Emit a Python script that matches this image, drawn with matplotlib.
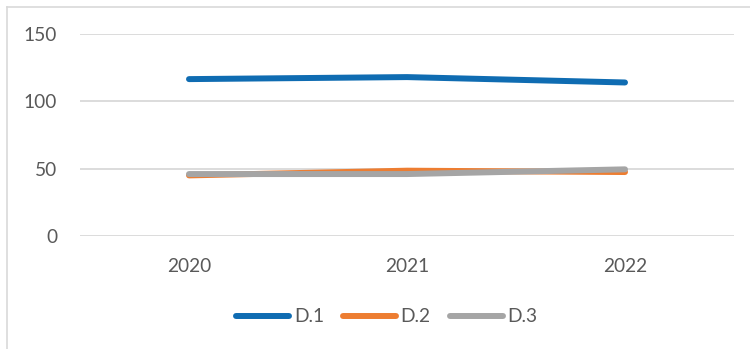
## line chart of D.1 - D.3 over three years (Excel style)

import matplotlib.pyplot as plt
from matplotlib.lines import Line2D

# data
years = ['2020', '2021', '2022']
d1 = [116.5, 118, 114]
d2 = [45, 48.5, 47.5]
d3 = [46, 46, 49.5]
series_names = ['D.1', 'D.2', 'D.3']
colors = ['#0F6CB2', '#ED7D31', '#A5A5A5']
yticks = [0, 50, 100, 150]

plt.rcParams['font.family'] = ['Lato', 'DejaVu Sans']
txt = '#595959'
fs = 13.8

fig = plt.figure(figsize=(7.5, 3.49), dpi=100)
ax = fig.add_axes([80/750, 1 - 236/349, 654/750, (236 - 34)/349])

x = list(range(len(years)))
for vals, name, c in zip([d1, d2, d3], series_names, colors):
    ax.plot(x, vals, color=c, linewidth=4.3, solid_capstyle='round',
            solid_joinstyle='round', label=name)

ax.set_xlim(-0.5, len(years) - 0.5)
ax.set_ylim(0, 150)
ax.set_yticks(yticks)
ax.set_xticks(x)
ax.set_xticklabels(years)
ax.grid(axis='y', color='#D9D9D9', linewidth=1.3)
ax.set_axisbelow(True)
for s in ax.spines.values():
    s.set_visible(False)
ax.tick_params(axis='both', length=0, labelsize=fs, colors=txt)
ax.tick_params(axis='y', pad=16.5)
ax.tick_params(axis='x', pad=15.5)

handles = [Line2D([], [], color=c, linewidth=4.3, solid_capstyle='round')
           for c in colors]
leg = fig.legend(handles, series_names, loc='center', bbox_to_anchor=(387/750, 1 - 317/349),
                 ncol=3, frameon=False, fontsize=fs, handlelength=2.75,
                 handletextpad=0.25, columnspacing=1.0, labelcolor=txt)

# chart area border (left and top visible)
fig.add_artist(Line2D([7/750, 7/750], [0, 1 - 7/349], color='#D9D9D9', linewidth=1.2,
                      transform=fig.transFigure))
fig.add_artist(Line2D([7/750, 1], [1 - 7/349, 1 - 7/349], color='#D9D9D9', linewidth=1.2,
                      transform=fig.transFigure))

fig.savefig('out.png', dpi=100)
